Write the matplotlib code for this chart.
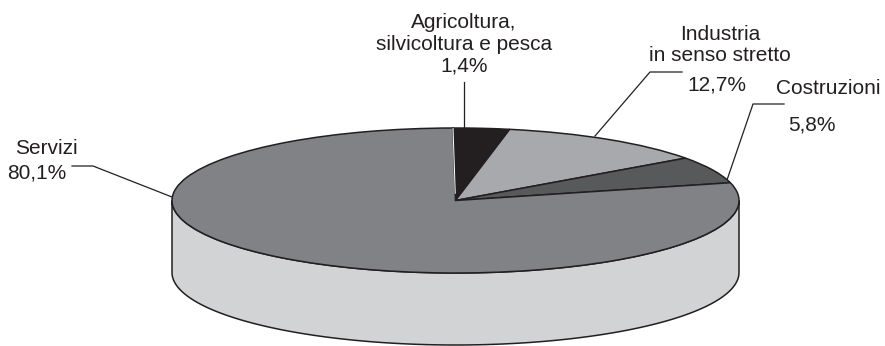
import matplotlib
matplotlib.use("Agg")
import matplotlib.pyplot as plt
import numpy as np

plt.rcParams['font.family'] = ['Liberation Sans', 'DejaVu Sans']

labels = ["Agricoltura,\nsilvicoltura e pesca\n1,4%", "Industria\nin senso stretto", "12,7%",
          "Costruzioni", "5,8%", "Servizi", "80,1%"]
slice_shares = [3.2, 12.0, 6.0, 78.8]
colors = ["#231f20", "#a7a9ac", "#58595b", "#808285"]
side_color = "#d1d3d4"
edge = "#231f20"

W, H = 885, 346
fig = plt.figure(figsize=(W/100, H/100), dpi=100)

# overlay in pixel coordinates for labels and leader lines
bg = fig.add_axes([0, 0, 1, 1])
bg.set_xlim(0, W)
bg.set_ylim(H, 0)
bg.axis("off")

# top ellipse box
left, right, top, bottom = 172, 739, 128, 273
ax = fig.add_axes([left/W, 1 - bottom/H, (right-left)/W, (bottom-top)/H])

wedges, _ = ax.pie(slice_shares, colors=colors, startangle=90.5, counterclock=False, radius=1,
                   wedgeprops=dict(edgecolor=edge, linewidth=1.1))
ax.set_aspect("auto")
ax.set_xlim(-1, 1)
ax.set_ylim(-1, 1)

# thin pale gap on the left side of the black slice
ang = np.deg2rad(90.5)
ax.plot([0.1*np.cos(ang), np.cos(ang)], [0.1*np.sin(ang), np.sin(ang)], color="white", lw=0.7, zorder=5)

# side of the cylinder
depth = 2*72/(bottom-top)
t = np.linspace(np.pi, 2*np.pi, 200)
xs = np.cos(t)
ys = np.sin(t)
ax.fill(np.r_[xs, xs[::-1]], np.r_[ys - depth, ys[::-1]], facecolor=side_color, edgecolor=edge,
        linewidth=1.1, clip_on=False, zorder=0)

# leader lines
bg.plot([464, 464], [82, 128], color=edge, lw=0.9)
bg.plot([595, 650, 682], [136, 72, 72], color=edge, lw=0.9)
bg.plot([727, 753, 784], [180, 104, 104], color=edge, lw=0.9)
bg.plot([172, 93, 72], [197, 166, 166], color=edge, lw=0.9)

fs = 15
bg.text(464, 44, labels[0], ha="center", va="center", fontsize=fs, color=edge, linespacing=1.17)
bg.text(720, 45, labels[1], ha="center", va="center", fontsize=fs, color=edge, linespacing=1.17)
bg.text(717, 85, labels[2], ha="center", va="center", fontsize=fs, color=edge)
bg.text(828, 88, labels[3], ha="center", va="center", fontsize=fs, color=edge)
bg.text(812, 125, labels[4], ha="center", va="center", fontsize=fs, color=edge)
bg.text(46, 148, labels[5], ha="center", va="center", fontsize=fs, color=edge)
bg.text(37, 173, labels[6], ha="center", va="center", fontsize=fs, color=edge)

fig.savefig("out.png", dpi=100)
